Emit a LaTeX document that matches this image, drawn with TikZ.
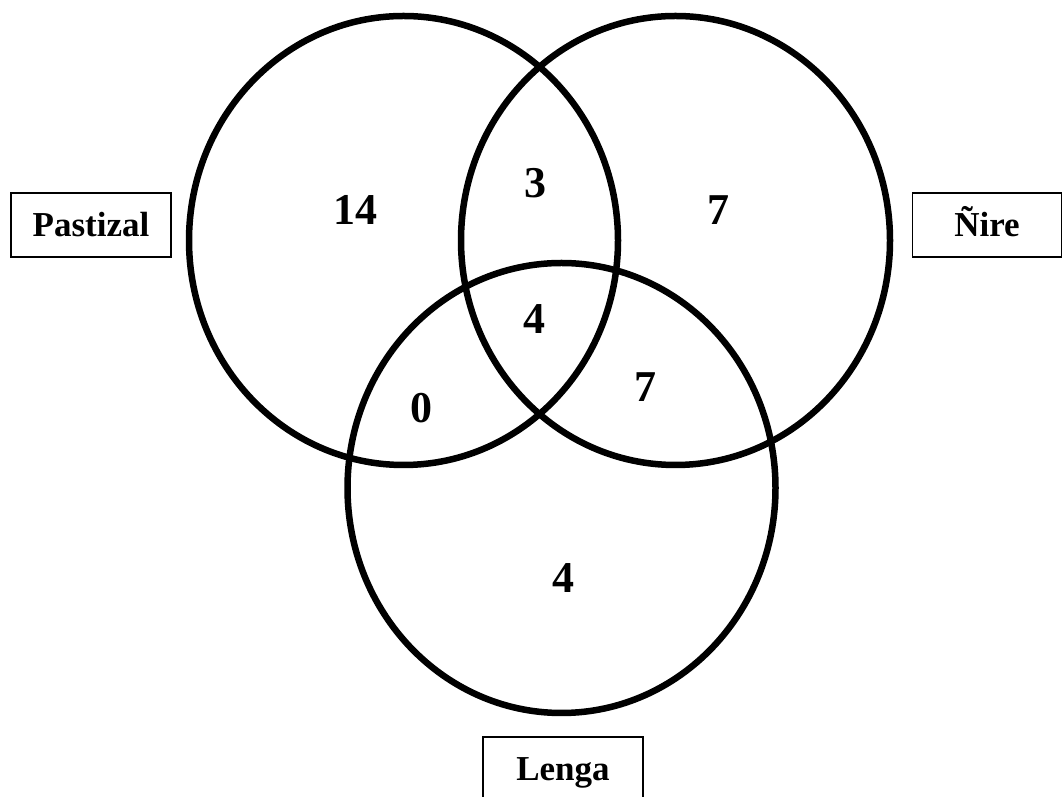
\documentclass[tikz,border=0pt]{standalone}
\usepackage{fontspec}
\setmainfont{Liberation Serif}
\begin{document}
\begin{tikzpicture}[x=1pt,y=1pt,
  setring/.style={line width=6.5pt},
  labelbox/.style={draw, line width=1.5pt, minimum height=64pt, inner sep=0pt,
    font=\fontsize{35}{40}\selectfont\bfseries, text height=23pt, text depth=0pt},
  count/.style={font=\fontsize{44}{50}\selectfont\bfseries, inner sep=0pt}]
\useasboundingbox (0,0) rectangle (1062,797);
\clip (0,0) rectangle (1062,797);
\coordinate (cP) at (403.5,556.5);
\coordinate (cN) at (675.5,556.5);
\coordinate (cL) at (561.5,309);
\draw[setring] (cP) ellipse [x radius=214.5, y radius=224.5];
\draw[setring] (cN) ellipse [x radius=214.5, y radius=224.5];
\draw[setring] (cL) ellipse [x radius=214, y radius=225];
\node[count] (n14) at (355,587) {14};
\node[count] (n3) at (535,614) {3};
\node[count] (n7a) at (718,587) {7};
\node[count] (n4a) at (534,478) {4};
\node[count] (n7b) at (645,410) {7};
\node[count] (n0) at (421,389) {0};
\node[count] (n4b) at (563,219) {4};
\node[labelbox, minimum width=160pt] (past) at (91,572) {Pastizal};
\node[labelbox, minimum width=149pt] (nire) at (987,572) {Ñire};
\node[labelbox, minimum width=160pt] (lenga) at (563,28) {Lenga};
\end{tikzpicture}
\end{document}
